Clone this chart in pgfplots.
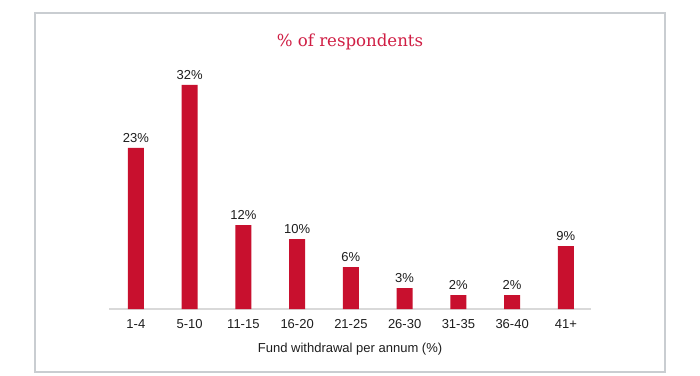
\documentclass[border=0pt]{standalone}
\usepackage{fontspec}
\setmainfont{Liberation Sans}
\newfontfamily\titlefont{DejaVu Serif}
\usepackage{pgfplots}
\pgfplotsset{compat=1.18}
\definecolor{barred}{HTML}{C8102E}
\definecolor{titlered}{HTML}{D01E44}
\definecolor{framegray}{HTML}{C9CDD1}
\definecolor{axisgray}{HTML}{D9D9D9}
\definecolor{txt}{HTML}{1E1E1E}
\begin{document}
\begin{tikzpicture}[x=1bp,y=1bp]
\path[use as bounding box] (0,0) rectangle (700,375);
\fill[white] (0,0) rectangle (700,375);
\draw[framegray, line width=1.5bp] (35,3) rectangle (665,362);
\node[anchor=base, text=titlered, inner sep=0pt, font=\titlefont\fontsize{16.6bp}{19bp}\selectfont] at (350,329) {\% of respondents};
\begin{axis}[
  at={(109bp,66bp)}, anchor=south west,
  x=53.75bp, y=7bp,
  xmin=-0.5, xmax=8.47, ymin=0, ymax=34,
  axis x line*=bottom, axis y line=none,
  axis line style={draw=axisgray, line width=1.2bp},
  xtick={0,...,8},
  xticklabels={1-4,5-10,11-15,16-20,21-25,26-30,31-35,36-40,41+},
  major tick length=0pt,
  ytick=\empty,
  /pgf/number format/assume math mode=true,
  xticklabel style={anchor=center, yshift=-15bp, text=txt, font=\fontsize{13bp}{15bp}\selectfont},
  xlabel={Fund withdrawal per annum (\%)},
  xlabel style={at={(axis description cs:0.5,0)}, anchor=center, yshift=-40bp, text=txt, font=\fontsize{13bp}{15bp}\selectfont},
  ybar, bar width=16bp,
  clip=false,
  nodes near coords={\pgfmathprintnumber{\pgfplotspointmeta}\%},
  nodes near coords style={anchor=south, inner sep=0pt, yshift=5bp, text=txt, font=\fontsize{13bp}{15bp}\selectfont},
]
\addplot[fill=barred, draw=none] coordinates {(0,23) (1,32) (2,12) (3,10) (4,6) (5,3) (6,2) (7,2) (8,9)};
\end{axis}
\end{tikzpicture}
\end{document}
